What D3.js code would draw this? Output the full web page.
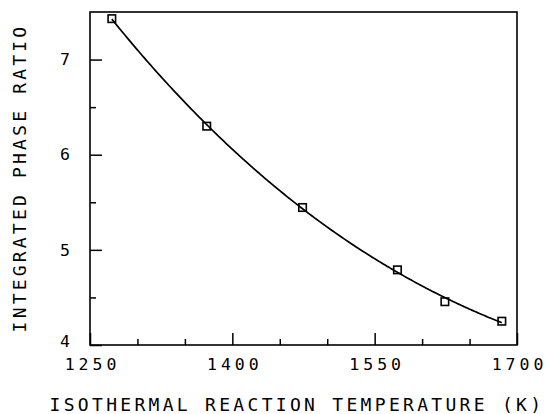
<!DOCTYPE html>
<html><head><meta charset="utf-8">
<script src="https://cdn.jsdelivr.net/npm/d3@7"></script>
<style>body{margin:0;background:#fff}svg{display:block}text{font-family:"DejaVu Sans Mono",monospace;fill:#000}</style>
</head><body><svg id="c" width="550" height="414"></svg>
<script>
const temperatures = [1273, 1373, 1474, 1574, 1624, 1684];
const phaseRatio = [7.43, 6.30, 5.445, 4.79, 4.455, 4.25];
const xMajorTicks = [1250, 1400, 1550, 1700];
const xMinorTicks = [1300, 1350, 1450, 1500, 1600, 1650];
const yMajorTicks = [4, 5, 6, 7];
const yMinorTicks = [4.5, 5.5, 6.5];
const xTitle = "ISOTHERMAL REACTION TEMPERATURE (K)";
const yTitle = "INTEGRATED PHASE RATIO";

const svg = d3.select("#c");
const L = 90, R = 517, T = 12, B = 345;
const x = d3.scaleLinear().domain([1250, 1700]).range([L, R]);
const y = d3.scaleLinear().domain([4, 7.5]).range([B, T]);

// frame
svg.append("rect").attr("x", L).attr("y", T).attr("width", R - L).attr("height", B - T)
  .attr("fill", "none").attr("stroke", "#000").attr("stroke-width", 1.6);

// x axis
const gx = svg.append("g").attr("transform", `translate(0,${B})`);
gx.call(d3.axisBottom(x).tickValues(xMinorTicks).tickSizeInner(-6).tickSizeOuter(0).tickFormat(""));
const gx2 = svg.append("g").attr("transform", `translate(0,${B})`);
gx2.call(d3.axisBottom(x).tickValues(xMajorTicks).tickSizeInner(-12).tickSizeOuter(0).tickPadding(13).tickFormat(d3.format("d")));
[gx, gx2].forEach(g => { g.select(".domain").remove(); g.selectAll("line").attr("stroke-width", 1.5); });
gx2.selectAll("text").style("font-size", "16.5px").style("letter-spacing", "4px").attr("dx", "2px");

// y axis
const gy = svg.append("g").attr("transform", `translate(${L},0)`);
gy.call(d3.axisLeft(y).tickValues(yMinorTicks).tickSizeInner(-6).tickSizeOuter(0).tickFormat(""));
const gy2 = svg.append("g").attr("transform", `translate(${L},0)`);
gy2.call(d3.axisLeft(y).tickValues(yMajorTicks).tickSizeInner(-12).tickSizeOuter(0).tickPadding(20).tickFormat(d3.format("d")));
[gy, gy2].forEach(g => { g.select(".domain").remove(); g.selectAll("line").attr("stroke-width", 1.5); });
gy2.selectAll("text").style("font-size", "16.5px");
gy2.selectAll(".tick").filter(d => d === 4).select("text").attr("dy", "0.1em");

// smooth least-squares cubic fit of the data (the reference curve is a fit)
const pts = temperatures.map((t, i) => [t, phaseRatio[i]]);
function polyFit(xs, ys, deg) {
  const n = deg + 1, c = 1480, sc = 100;
  const A = Array.from({length: n}, () => new Array(n + 1).fill(0));
  xs.forEach((xv, k) => {
    const u = (xv - c) / sc;
    for (let i = 0; i < n; i++) {
      for (let j = 0; j < n; j++) A[i][j] += Math.pow(u, i + j);
      A[i][n] += ys[k] * Math.pow(u, i);
    }
  });
  for (let i = 0; i < n; i++) {
    let p = i;
    for (let r = i + 1; r < n; r++) if (Math.abs(A[r][i]) > Math.abs(A[p][i])) p = r;
    [A[i], A[p]] = [A[p], A[i]];
    for (let r = 0; r < n; r++) if (r !== i) {
      const f = A[r][i] / A[i][i];
      for (let j = i; j <= n; j++) A[r][j] -= f * A[i][j];
    }
  }
  const coef = A.map((row, i) => row[n] / row[i]);
  return xv => { const u = (xv - c) / sc; return coef.reduce((s, a, i) => s + a * Math.pow(u, i), 0); };
}
const fit = polyFit(temperatures, phaseRatio, 3);
const [xmin, xmax] = d3.extent(temperatures);
const fitXs = d3.range(xmin, xmax, 2).concat([xmax]);
svg.append("path").datum(fitXs)
  .attr("d", d3.line().x(t => x(t)).y(t => y(fit(t))).curve(d3.curveMonotoneX))
  .attr("fill", "none").attr("stroke", "#000").attr("stroke-width", 1.7);

// markers
const s = 7.5;
svg.append("g").selectAll("rect").data(pts).join("rect")
  .attr("x", d => x(d[0]) - s / 2).attr("y", d => y(d[1]) - s / 2)
  .attr("width", s).attr("height", s)
  .attr("fill", "none").attr("stroke", "#000").attr("stroke-width", 1.6);

// titles
svg.append("text").attr("x", 297).attr("y", 411).attr("text-anchor", "middle")
  .style("font-size", "18px").style("letter-spacing", "3.3px").text(xTitle);
svg.append("text").attr("transform", `translate(26,178) rotate(-90)`).attr("text-anchor", "middle")
  .style("font-size", "18px").style("letter-spacing", "3.2px").text(yTitle);
</script></body></html>
